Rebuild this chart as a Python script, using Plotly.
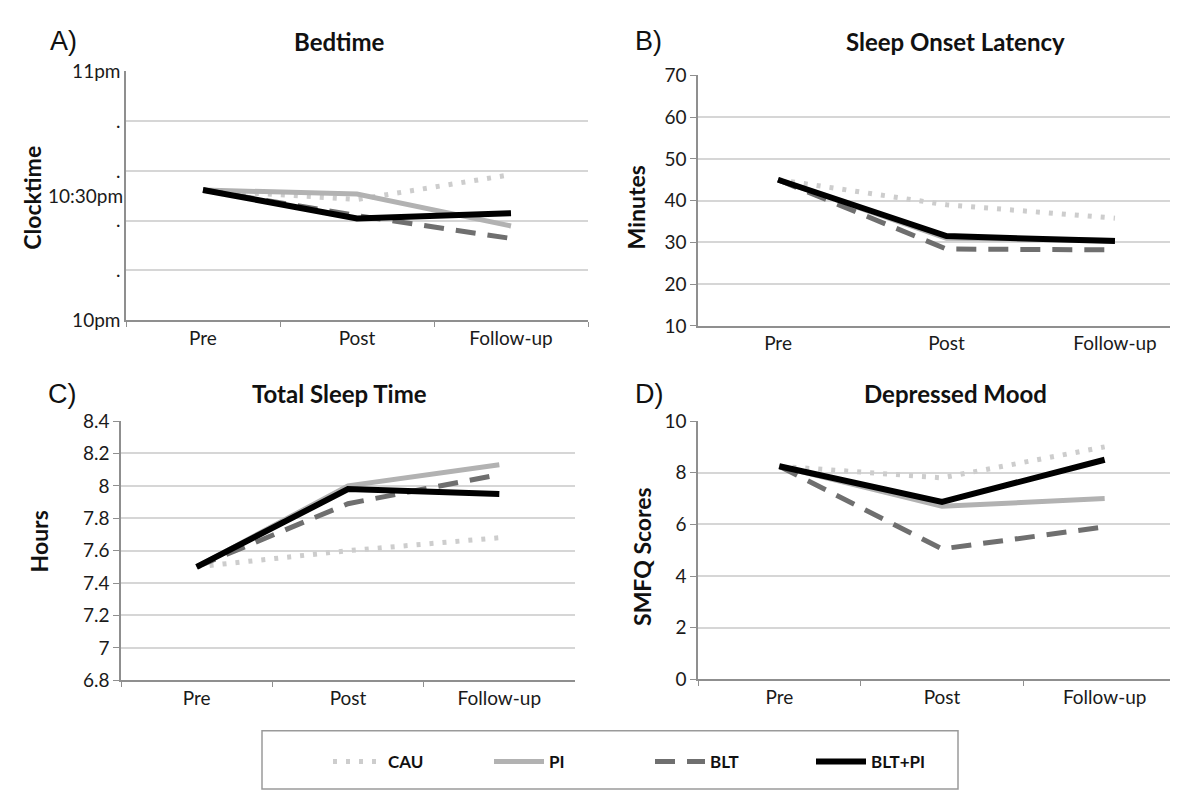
import plotly.graph_objects as go

W, H = 1178, 794

categories = ["Pre", "Post", "Follow-up"]
groups = ["CAU", "PI", "BLT", "BLT+PI"]

# A) Bedtime, minutes after 10pm
bedtime = {
    "CAU": [31.4, 29.1, 35.1],
    "PI": [31.4, 30.4, 22.7],
    "BLT": [31.4, 25.2, 19.7],
    "BLT+PI": [31.4, 24.5, 25.8],
}
bedtime_tickvals = [0, 12, 24, 36, 48, 60]
bedtime_ticktext = ["10pm", ".", ".", ".", ".", "11pm"]

# B) Sleep onset latency, minutes
sol = {
    "CAU": [45.0, 39.0, 35.8],
    "PI": [45.0, 31.0, 30.5],
    "BLT": [45.0, 28.4, 28.2],
    "BLT+PI": [45.0, 31.5, 30.3],
}

# C) Total sleep time, hours
tst = {
    "CAU": [7.50, 7.60, 7.68],
    "PI": [7.50, 8.00, 8.13],
    "BLT": [7.50, 7.89, 8.07],
    "BLT+PI": [7.50, 7.98, 7.95],
}

# D) Depressed mood, SMFQ scores
smfq = {
    "CAU": [8.25, 7.8, 9.0],
    "PI": [8.25, 6.7, 7.0],
    "BLT": [8.25, 5.05, 5.9],
    "BLT+PI": [8.25, 6.87, 8.5],
}

styles = {
    "CAU": dict(color="#cdcdcd", width=5, dash="4px,9px"),
    "PI": dict(color="#b2b2b2", width=5, dash="solid"),
    "BLT": dict(color="#6f6f6f", width=5, dash="20px,12px"),
    "BLT+PI": dict(color="#000000", width=6, dash="solid"),
}

FONT = "Lato"
GRID = "#d6d6d6"
AXIS = "#8f8f8f"


def fx(x):
    return x / W


def fy(y):
    return 1 - y / H


fig = go.Figure()

panels = [
    ("x", "y", bedtime),
    ("x2", "y2", sol),
    ("x3", "y3", tst),
    ("x4", "y4", smfq),
]
for i, (xa, ya, data) in enumerate(panels):
    for g in groups:
        fig.add_trace(go.Scatter(
            x=categories, y=data[g], mode="lines", name=g,
            line=styles[g], xaxis=xa, yaxis=ya,
            showlegend=(i == 0), legendgroup=g,
        ))

tickfont = dict(family=FONT, size=19, color="#1a1a1a")


def xaxis(domain, rng, ticks, anchor):
    return dict(
        domain=domain, range=rng, anchor=anchor, type="category",
        showgrid=False, showline=True, linecolor=AXIS, linewidth=1.5,
        tickson="boundaries", ticks=ticks, ticklen=5, tickcolor=AXIS,
        tickfont=tickfont, fixedrange=True,
    )


def yaxis(domain, rng, anchor, ticks="outside", **kw):
    d = dict(
        domain=domain, range=rng, anchor=anchor,
        showgrid=True, gridcolor=GRID, gridwidth=1.5,
        showline=True, linecolor=AXIS, linewidth=1.5,
        ticks=ticks, ticklen=6, tickcolor=AXIS,
        tickfont=tickfont, zeroline=False,
    )
    d.update(kw)
    return d


fig.update_layout(
    width=W, height=H,
    margin=dict(l=0, r=0, t=0, b=0),
    paper_bgcolor="white", plot_bgcolor="white",
    font=dict(family=FONT, size=19, color="#1a1a1a"),
    xaxis=xaxis([fx(118), fx(580)], [-0.5, 2.5], "outside", "y"),
    yaxis=yaxis([fy(309), fy(53)], [0, 60], "x", ticks="",
                tickvals=bedtime_tickvals, ticktext=bedtime_ticktext),
    xaxis2=xaxis([fx(690), fx(1172)], [-0.475, 2.386], "", "y2"),
    yaxis2=yaxis([fy(315), fy(57)], [10, 70], "x2", dtick=10),
    xaxis3=xaxis([fx(113), fx(567)], [-0.5, 2.5], "outside", "y3"),
    yaxis3=yaxis([fy(680), fy(413)], [6.8, 8.4], "x3", dtick=0.2, tick0=6.8),
    xaxis4=xaxis([fx(690), fx(1178)], [-0.5, 2.5], "outside", "y4"),
    yaxis4=yaxis([fy(679), fy(413)], [0, 10], "x4", dtick=2),
    showlegend=True,
    legend=dict(
        orientation="h", x=fx(320), y=fy(764), xanchor="left", yanchor="middle",
        bgcolor="rgba(0,0,0,0)", borderwidth=0,
        font=dict(family=FONT, size=17, color="#111111", weight="bold"),
        entrywidth=96, entrywidthmode="pixels", itemwidth=50,
        traceorder="normal",
    ),
)

# Legend frame
fig.add_shape(type="rect", xref="paper", yref="paper",
              x0=fx(254), x1=fx(950), y0=fy(792), y1=fy(732),
              line=dict(color="#9a9a9a", width=1.5), fillcolor="rgba(0,0,0,0)")

ann = []
# panel letters
for txt, x, y in [("A)", 40, 22), ("B)", 625, 22), ("C)", 38, 385), ("D)", 625, 385)]:
    ann.append(dict(text=txt, x=fx(x), y=fy(y), xref="paper", yref="paper",
                    xanchor="left", yanchor="middle", showarrow=False,
                    font=dict(family="Liberation Sans", size=27, color="#111111")))
# titles
for txt, x, y in [("Bedtime", 331, 22), ("Sleep Onset Latency", 947, 22),
                  ("Total Sleep Time", 331, 385), ("Depressed Mood", 947, 385)]:
    ann.append(dict(text=txt, x=fx(x), y=fy(y), xref="paper", yref="paper",
                    xanchor="center", yanchor="middle", showarrow=False,
                    font=dict(family=FONT, size=24, color="#111111", weight="bold")))
# y-axis titles
for txt, x, y in [("Clocktime", 24, 183), ("Minutes", 628, 193),
                  ("Hours", 31, 537), ("SMFQ Scores", 634, 553)]:
    ann.append(dict(text=txt, x=fx(x), y=fy(y), xref="paper", yref="paper",
                    xanchor="center", yanchor="middle", showarrow=False, textangle=-90,
                    font=dict(family=FONT, size=23, color="#111111", weight="bold")))
# 10:30pm label on bedtime axis
ann.append(dict(text="10:30pm", x=fx(117), y=30, xref="paper", yref="y",
                xanchor="right", yanchor="middle", showarrow=False,
                font=tickfont))
fig.update_layout(annotations=ann)

fig.write_html("out.html")
